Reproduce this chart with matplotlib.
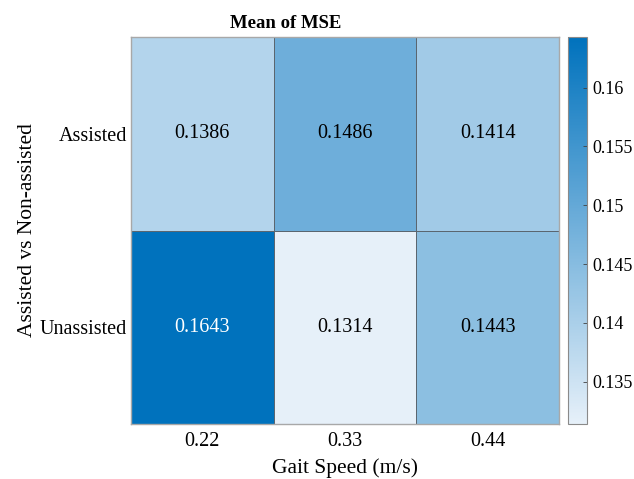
import numpy as np
import matplotlib.pyplot as plt
from matplotlib.colors import LinearSegmentedColormap

plt.rcParams['font.family'] = ['Liberation Serif', 'DejaVu Serif']

speeds = ['0.22', '0.33', '0.44']
conditions = ['Assisted', 'Unassisted']
assisted_mse = [0.1386, 0.1486, 0.1414]
unassisted_mse = [0.1643, 0.1314, 0.1443]

mse = np.array([assisted_mse, unassisted_mse])

# light-to-dark blue map, like MATLAB's heatmap default
sky = LinearSegmentedColormap.from_list('sky', ['#e6f0f9', '#0072bd'])

W, H = 634, 479
fig = plt.figure(figsize=(W / 100, H / 100), dpi=100)
ax = fig.add_axes([131 / W, (H - 424) / H, 428 / W, 387 / H])
cax = fig.add_axes([568 / W, (H - 424) / H, 19 / W, 387 / H])

vmin, vmax = mse.min(), mse.max()
mesh = ax.pcolormesh(mse, cmap=sky, vmin=vmin, vmax=vmax,
                     edgecolor='#5a6670', linewidth=0.6)
ax.set_xlim(0, 3)
ax.set_ylim(2, 0)

for i in range(mse.shape[0]):
    for j in range(mse.shape[1]):
        v = mse[i, j]
        frac = (v - vmin) / (vmax - vmin)
        ax.text(j + 0.5, i + 0.5, f'{v:.4f}', ha='center', va='center',
                fontsize=14.5, color='white' if frac > 0.85 else 'black')

ax.set_xticks(np.arange(3) + 0.5)
ax.set_xticklabels(speeds, fontsize=14.5)
ax.set_yticks(np.arange(2) + 0.5)
ax.set_yticklabels(conditions, fontsize=14.5)
ax.tick_params(axis='x', length=0, pad=6)
ax.tick_params(axis='y', length=0, pad=3)
for s in ax.spines.values():
    s.set_color('#a8a8a8')
    s.set_linewidth(1.0)

ax.set_xlabel('Gait Speed (m/s)', fontsize=15.5, labelpad=5)
ax.set_ylabel('Assisted vs Non-assisted', fontsize=15.5, labelpad=2)
fig.text(286 / W, (H - 24) / H, 'Mean of MSE', fontsize=13.5,
         fontweight='bold', ha='center', va='center')

cb = fig.colorbar(mesh, cax=cax)
cb.set_ticks([0.135, 0.14, 0.145, 0.15, 0.155, 0.16])
cb.set_ticklabels(['0.135', '0.14', '0.145', '0.15', '0.155', '0.16'])
cb.ax.tick_params(labelsize=13, length=3, width=0.6, color='#404040',
                  direction='in', pad=4)
cb.outline.set_edgecolor('#8a8a8a')
cb.outline.set_linewidth(0.8)

fig.savefig('out.png', dpi=100)
